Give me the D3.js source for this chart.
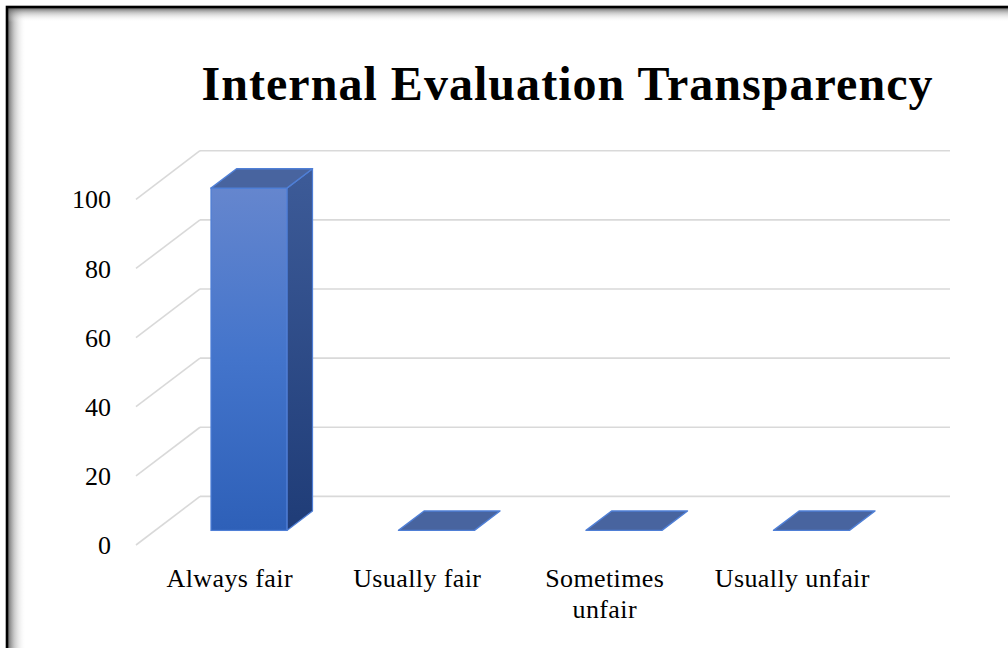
<!DOCTYPE html>
<html><head><meta charset="utf-8">
<script src="https://cdn.jsdelivr.net/npm/d3@7"></script>
<style>html,body{margin:0;padding:0;background:#fff;overflow:hidden}</style>
</head><body><svg id="c" width="1008" height="648"></svg>
<script>
// ---- data ----
const title = "Internal Evaluation Transparency";
const categories = ["Always fair", "Usually fair", "Sometimes unfair", "Usually unfair"];
const categoryLines = [["Always fair"], ["Usually fair"], ["Sometimes", "unfair"], ["Usually unfair"]];
const values = [99, 0, 0, 0];
const yTicks = [0, 20, 40, 60, 80, 100];

// ---- layout ----
const svg = d3.select("#c");
const W = 1008, H = 648;
const depth = {dx: 64, dy: -48.6};   // floor depth offset (oblique 3D)
const f0 = 0.3, f1 = 0.7;             // bar depth range (fraction of floor depth)
const serif = "'Liberation Serif','Times New Roman',serif";

const x = d3.scaleBand().domain(categories).range([136, 886])
  .paddingInner(0.595).paddingOuter(0.2975);
const y = d3.scaleLinear().domain([0, 100]).range([545, 199.3]);

const defs = svg.append("defs");
function lin(id, x1, y1, x2, y2, stops) {
  const g = defs.append("linearGradient").attr("id", id)
    .attr("x1", x1).attr("y1", y1).attr("x2", x2).attr("y2", y2);
  stops.forEach(s => g.append("stop").attr("offset", s[0]).attr("stop-color", s[1]).attr("stop-opacity", s[2] == null ? 1 : s[2]));
}
lin("gFront", 0, 0, 0, 1, [[0, "#6586ce"], [0.5, "#4374cb"], [1, "#2e60b8"]]);
lin("gSide", 0, 0, 0, 1, [[0, "#3d5b98"], [1, "#1f3c77"]]);
lin("shL", 0, 0, 1, 0, [[0, "#555", 0.85], [0.35, "#888", 0.45], [1, "#fff", 0]]);
lin("shT", 0, 0, 0, 1, [[0, "#555", 0.85], [0.35, "#888", 0.45], [1, "#fff", 0]]);

// background + frame with inner shadow
svg.append("rect").attr("width", W).attr("height", H).attr("fill", "#fff");
svg.append("rect").attr("x", 8).attr("y", 8).attr("width", 18).attr("height", H).attr("fill", "url(#shL)");
svg.append("rect").attr("x", 8).attr("y", 8).attr("width", W).attr("height", 14).attr("fill", "url(#shT)");
svg.append("rect").attr("x", 7).attr("y", 7).attr("width", W + 20).attr("height", H + 20)
  .attr("fill", "none").attr("stroke", "#000").attr("stroke-width", 2.6);

// title
svg.append("text").attr("x", 201.5).attr("y", 100)
  .attr("font-family", serif).attr("font-weight", "bold").attr("font-size", 48)
  .attr("textLength", 731).attr("lengthAdjust", "spacing")
  .attr("fill", "#000").text(title);

// gridlines: back wall + left side wall
const xL = x.range()[0], xR = x.range()[1];
const grid = svg.append("g").attr("stroke", "#d9d9d9").attr("stroke-width", 1.6).attr("fill", "none");
grid.selectAll("line.back").data(yTicks).join("line").attr("class", "back")
  .attr("x1", xL + depth.dx).attr("x2", xR + depth.dx)
  .attr("y1", d => y(d) + depth.dy).attr("y2", d => y(d) + depth.dy);
grid.selectAll("line.side").data(yTicks).join("line").attr("class", "side")
  .attr("x1", xL).attr("y1", d => y(d))
  .attr("x2", xL + depth.dx).attr("y2", d => y(d) + depth.dy);

// bars
const bw = x.bandwidth();
const ddx = (f1 - f0) * depth.dx, ddy = (f1 - f0) * depth.dy;
const bars = svg.append("g").selectAll("g").data(categories.map((c, i) => ({c, v: values[i]}))).join("g");
bars.each(function(d) {
  const g = d3.select(this);
  const x0 = x(d.c) + f0 * depth.dx, x1 = x0 + bw;
  const yb = y(0) + f0 * depth.dy, yt = y(d.v) + f0 * depth.dy;
  const edge = "#4f7fd6";
  if (yb - yt > 0.5) {
    g.append("polygon")
      .attr("points", [[x1, yt], [x1 + ddx, yt + ddy], [x1 + ddx, yb + ddy], [x1, yb]].join(" "))
      .attr("fill", "url(#gSide)").attr("stroke", edge).attr("stroke-width", 1.2).attr("stroke-linejoin", "round");
    g.append("rect").attr("x", x0).attr("y", yt).attr("width", bw).attr("height", yb - yt)
      .attr("fill", "url(#gFront)").attr("stroke", edge).attr("stroke-width", 1.2);
  }
  g.append("polygon")
    .attr("points", [[x0, yt], [x1, yt], [x1 + ddx, yt + ddy], [x0 + ddx, yt + ddy]].join(" "))
    .attr("fill", "#48649f").attr("stroke", edge).attr("stroke-width", 1.4).attr("stroke-linejoin", "round");
});

// y axis labels
const yAxis = svg.append("g").attr("transform", "translate(111,0)")
  .call(d3.axisLeft(y).tickValues(yTicks).tickSize(0).tickPadding(0).tickFormat(d3.format("d")));
yAxis.select(".domain").remove();
yAxis.selectAll("text").attr("font-family", serif).attr("font-size", 26).attr("fill", "#000")
  .attr("dy", "0.33em");

// x axis labels
const xAxis = svg.append("g").attr("transform", "translate(0,587)")
  .call(d3.axisBottom(x).tickSize(0).tickPadding(0));
xAxis.select(".domain").remove();
xAxis.selectAll(".tick text").each(function(d, i) {
  const t = d3.select(this);
  t.text(null).attr("y", 0).attr("dy", null)
    .attr("font-family", serif).attr("font-size", 26).attr("fill", "#000")
    .attr("letter-spacing", 0.4);
  categoryLines[i].forEach((line, k) => {
    t.append("tspan").attr("x", 0).attr("y", k * 30.5).text(line);
  });
});
</script></body></html>
